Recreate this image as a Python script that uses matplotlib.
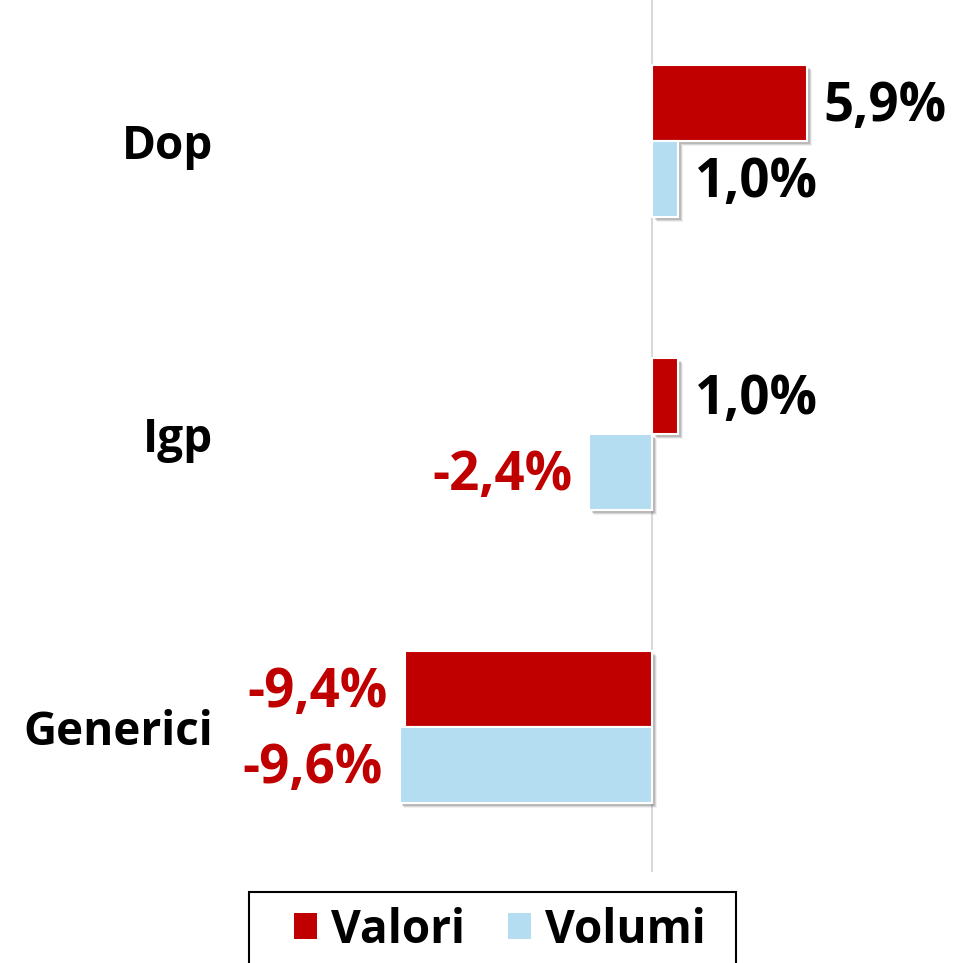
import numpy as np
import matplotlib
matplotlib.use('Agg')
import matplotlib.pyplot as plt
import matplotlib.patheffects as pe
from matplotlib.patches import Rectangle

categories = ['Dop', 'Igp', 'Generici']
valori = [5.9, 1.0, -9.4]
volumi = [1.0, -2.4, -9.6]
series_names = ['Valori', 'Volumi']

RED = '#C00000'
BLUE = '#B4DDF2'

plt.rcParams['font.family'] = ['Open Sans', 'DejaVu Sans']
plt.rcParams['font.weight'] = 'bold'

fig = plt.figure(figsize=(9.65, 9.63), dpi=100)
# axes in pixel terms: x 230..960, y 0..872 (from top)
ax = fig.add_axes([230/965, 1-872/963, 730/965, 872/963])

y = np.arange(len(categories))
h = 0.26
shadow = [pe.SimplePatchShadow(offset=(3.5, -3.5), shadow_rgbFace='#000000', alpha=0.06),
          pe.SimplePatchShadow(offset=(2.8, -2.8), shadow_rgbFace='#000000', alpha=0.10),
          pe.SimplePatchShadow(offset=(2.0, -2.0), shadow_rgbFace='#000000', alpha=0.14),
          pe.Normal()]

b1 = ax.barh(y - h/2, valori, height=h, color=RED, edgecolor='white', linewidth=1.5,
             label=series_names[0], zorder=3)
b2 = ax.barh(y + h/2, volumi, height=h, color=BLUE, edgecolor='white', linewidth=1.5,
             label=series_names[1], zorder=3)
for bars in (b1, b2):
    for p in bars:
        p.set_path_effects(shadow)

ax.axvline(0, color='#d9d9d9', lw=1.5, zorder=1)

def fmt(v):
    return f'{v:.1f}%'.replace('.', ',')

VFS = 38
for bars, vals in ((b1, valori), (b2, volumi)):
    for p, v in zip(bars, vals):
        yc = p.get_y() + p.get_height()/2
        if v >= 0:
            ax.annotate(fmt(v), (v, yc), xytext=(12, -3), textcoords='offset points',
                        ha='left', va='center', fontsize=VFS, fontweight='bold', color='black')
        else:
            ax.annotate(fmt(v), (v, yc), xytext=(-12, -3), textcoords='offset points',
                        ha='right', va='center', fontsize=VFS, fontweight='bold', color=RED)

ax.set_xlim((230-652)/26.3, (960-652)/26.3)
ax.set_ylim((872-141)/293, -141/293)
ax.set_yticks(y)
ax.set_yticklabels(categories, fontsize=33, fontweight='bold')
ax.tick_params(axis='y', length=0, pad=12)
ax.set_xticks([])
for s in ax.spines.values():
    s.set_visible(False)

# legend frame (extends past the bottom edge like in the original)
fig.patches.append(Rectangle((249/965, -0.05), (736-249)/965, 0.05 + 1-892/963,
                             transform=fig.transFigure, facecolor='white',
                             edgecolor='black', linewidth=1.5))
leg = fig.legend(handles=[b1, b2], loc='center', bbox_to_anchor=(500/965, 1-930/963),
                 ncol=2, fontsize=33, frameon=False,
                 handlelength=0.5, handleheight=0.5, handletextpad=0.3, columnspacing=0.95,
                 borderpad=0, borderaxespad=0)
for hp in leg.legend_handles:
    hp.set_path_effects([])
    hp.set_edgecolor('none')
for t in leg.get_texts():
    t.set_fontweight('bold')

fig.savefig('out.png', dpi=100)
